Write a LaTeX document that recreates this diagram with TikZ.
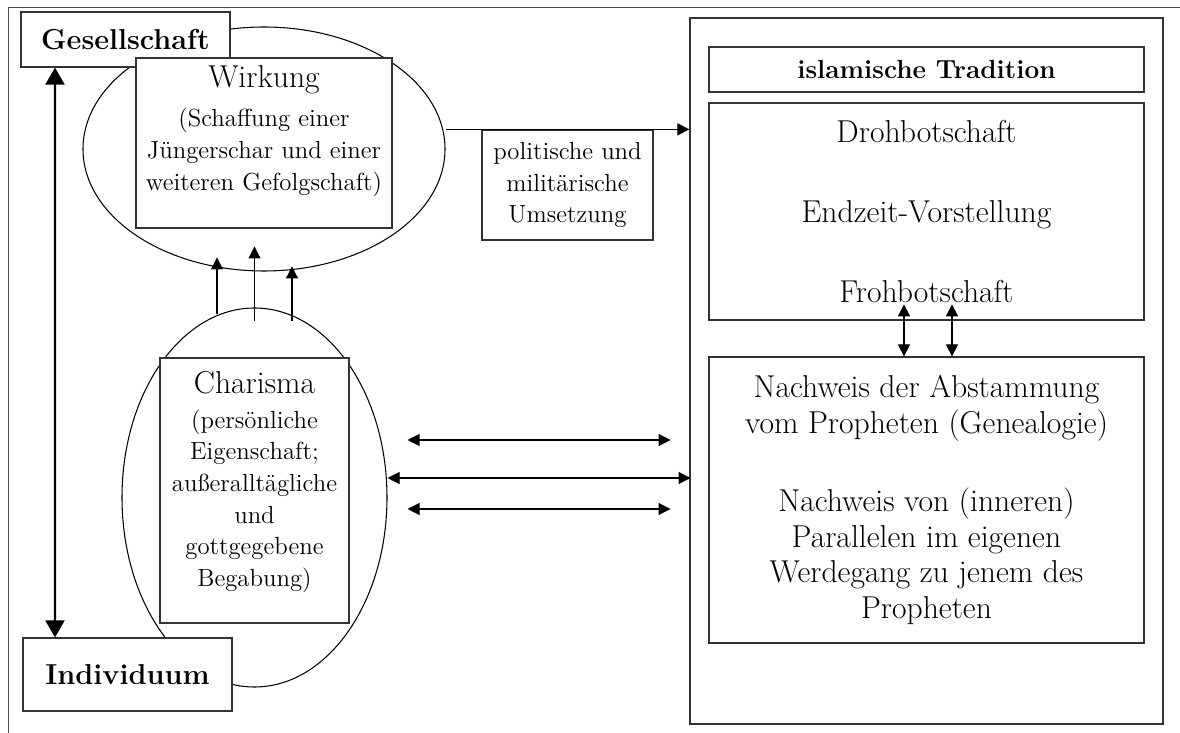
\documentclass[tikz,border=0pt]{standalone}
\usepackage{tikz}
\usetikzlibrary{arrows.meta, positioning, calc, shapes.geometric}

\begin{document}
\begin{tikzpicture}[
  >={Triangle[length=0.24cm, width=0.24cm]},
  box/.style={draw=black!80, line width=0.7pt, inner sep=0pt, align=center},
  oval/.style={draw, ellipse, line width=0.6pt, inner sep=0pt},
  bigtext/.style={font=\fontsize{18}{20.4}\selectfont, align=center, inner sep=0pt},
  smalltext/.style={font=\fontsize{14.1}{18}\selectfont, align=center, inner sep=0pt},
  headtext/.style={font=\fontsize{16.4}{19}\selectfont\bfseries},
  link/.style={->, line width=0.6pt},
  twoway/.style={<->, line width=0.6pt},
]

\useasboundingbox (0,0) rectangle (23.6,14.66);

%%% Frame (top and left rule)
\draw[black!70, line width=0.5pt] (0.16,0) -- (0.16,14.52) -- (23.6,14.52);

%%% Ellipses
\node[oval, minimum width=7.24cm, minimum height=4.88cm] (wirkE) at (5.28,11.68) {};
\node[oval, minimum width=5.3cm, minimum height=7.58cm] (charE) at (5.09,4.71) {};

%%% Society / individual
\node[box, fill=white, headtext, minimum width=4.18cm, minimum height=1.1cm]
  (ges) at (2.51,13.87) {Gesellschaft};
\node[box, fill=white, headtext, minimum width=4.18cm, minimum height=1.46cm]
  (ind) at (2.55,1.17) {Individuum};

%%% Wirkung
\node[box, fill=white, minimum width=5.12cm, minimum height=3.4cm] (wirk) at (5.28,11.8) {};
\node[bigtext, anchor=north] (wirkT) at ([yshift=-0.16cm]wirk.north) {Wirkung};
\node[smalltext, below=0.27cm of wirkT] (wirkS)
  {(Schaffung einer\\J\"ungerschar und einer\\weiteren Gefolgschaft)};

%%% Charisma
\node[box, fill=white, minimum width=3.78cm, minimum height=5.3cm] (char) at (5.09,4.85) {};
\node[bigtext, anchor=north] (charT) at ([yshift=-0.28cm]char.north) {Charisma};
\node[smalltext, below=0.29cm of charT] (charS)
  {(pers\"onliche\\Eigenschaft;\\au\ss eralltägliche\\und\\gottgegebene\\Begabung)};

%%% Umsetzung
\node[box, smalltext, minimum width=3.42cm, minimum height=2.2cm] (pol) at (11.35,10.96)
  {politische und\\milit\"arische\\Umsetzung};

%%% Tradition
\node[box, minimum width=9.46cm, minimum height=14.12cm] (trad) at (18.53,7.24) {};
\node[box, minimum width=8.7cm, minimum height=0.9cm,
  font=\fontsize{14.9}{17}\selectfont\bfseries] (islam) at (18.53,13.27) {islamische Tradition};
\node[box, bigtext, minimum width=8.7cm, minimum height=4.34cm] (droh) at (18.53,10.43)
  {Drohbotschaft\\[25pt]Endzeit-Vorstellung\\[25pt]Frohbotschaft};
\node[box, bigtext, minimum width=8.7cm, minimum height=5.72cm] (nach) at (18.53,4.66)
  {Nachweis der Abstammung\\vom Propheten (Genealogie)\\[24pt]
   Nachweis von (inneren)\\Parallelen im eigenen\\Werdegang zu jenem des\\Propheten};

%%% Connectors
\draw[<->, line width=1.2pt, >={Triangle[length=0.34cm, width=0.38cm]}]
  ([xshift=-1.41cm]ges.south) -- ([xshift=-1.45cm]ind.north);

\draw[link] (charE.north) ++(-0.75,-0.14) -- ++(0,1.14);
\draw[link] (charE.north) ++(0,-0.28) -- ++(0,1.5);
\draw[link] (charE.north) ++(0.75,-0.28) -- ++(0,1.1);

\draw[link] (pol.north -| wirkE.east) -- (pol.north -| trad.west);

\draw[twoway] (charE.east) ++(0.4,1.15) -- ++(5.26,0);
\draw[twoway] (charE.east) ++(0,0.39) -- ++(6.06,0);
\draw[twoway] (charE.east) ++(0.4,-0.23) -- ++(5.26,0);

\draw[twoway] (nach.north) ++(-0.45,0) -- ++(0,1.04);
\draw[twoway] (nach.north) ++(0.51,0) -- ++(0,1.04);

\end{tikzpicture}
\end{document}
